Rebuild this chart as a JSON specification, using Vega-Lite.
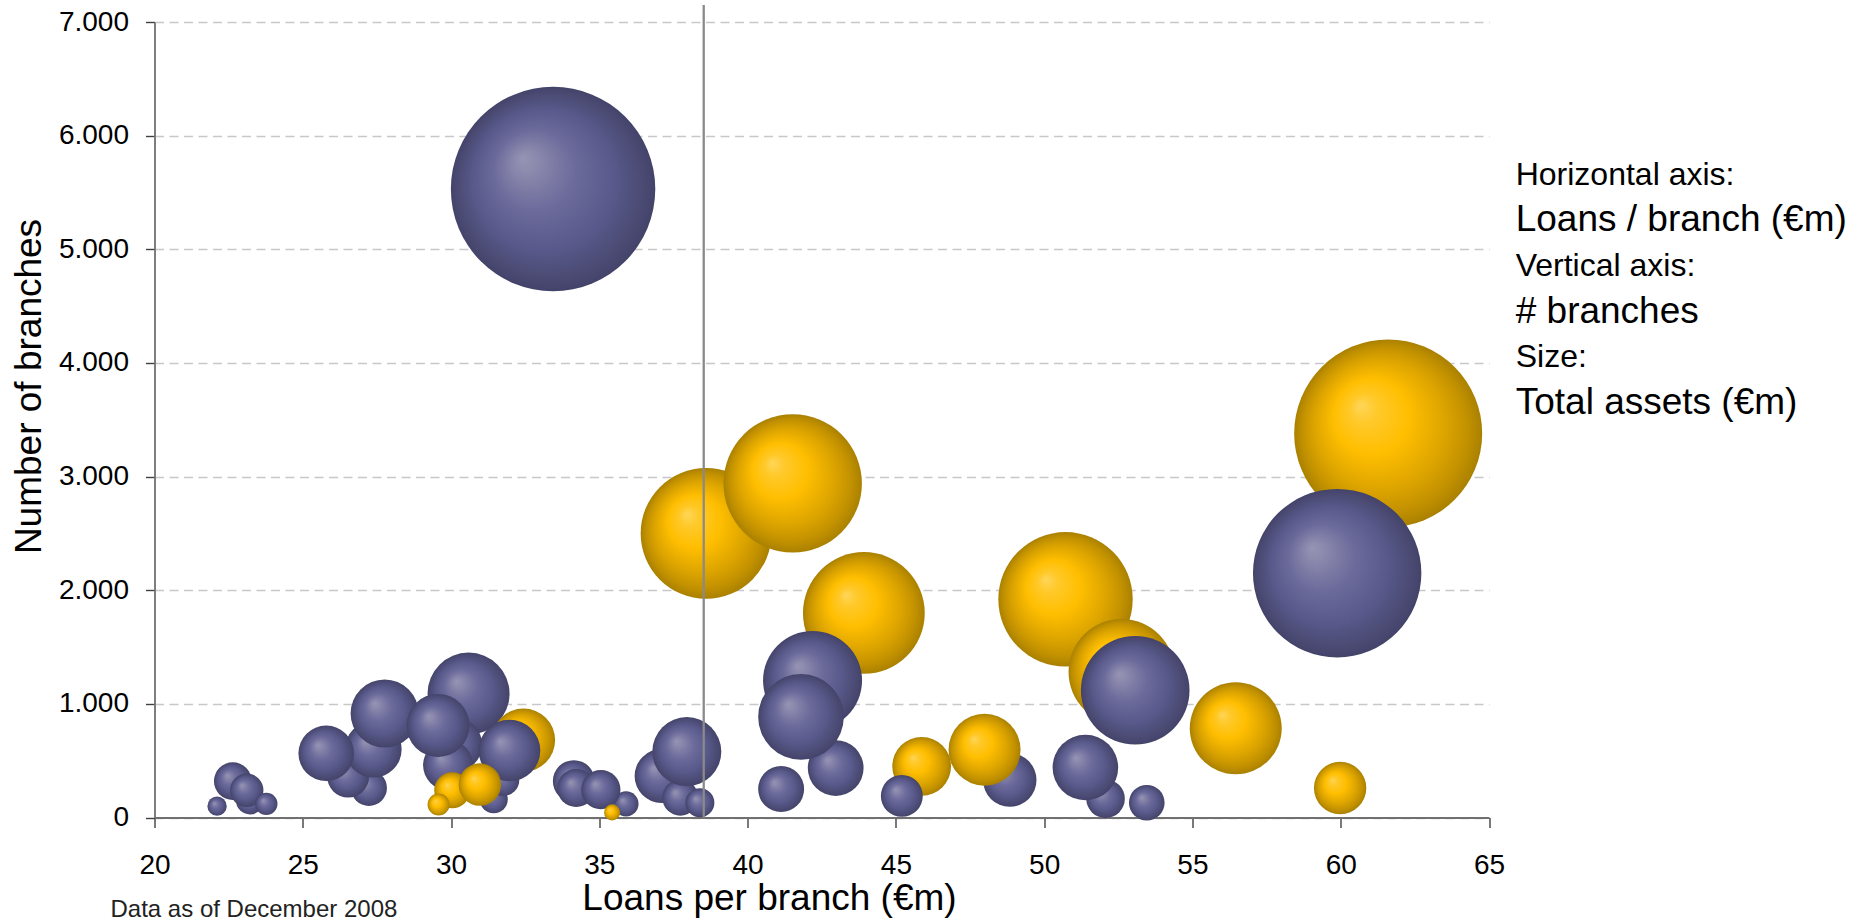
{
  "$schema": "https://vega.github.io/schema/vega-lite/v6.json",
  "width": 1334.5,
  "height": 795.5,
  "autosize": "none",
  "padding": {"left": 154.5, "top": 22, "right": 374, "bottom": 103.5},
  "background": "white",
  "config": {
    "view": {"stroke": null},
    "font": "Liberation Sans",
    "axis": {"labelFont": "Liberation Sans", "titleFont": "Liberation Sans", "labelColor": "#000", "titleColor": "#000", "titleFontWeight": "normal"}
  },
  "title": {
    "text": "Data as of December 2008",
    "orient": "bottom",
    "anchor": "start",
    "frame": "group",
    "font": "Liberation Sans",
    "fontSize": 24,
    "fontWeight": "normal",
    "color": "#222",
    "baseline": "alphabetic",
    "dx": -44,
    "offset": 1
  },
  "datasets": {
    "banks": [
      {"bank_type": "target", "loans_per_branch": 61.60, "branches": 3380, "total_assets": 247400},
      {"bank_type": "peer", "loans_per_branch": 33.44, "branches": 5530, "total_assets": 292500},
      {"bank_type": "peer", "loans_per_branch": 59.88, "branches": 2150, "total_assets": 198500},
      {"bank_type": "target", "loans_per_branch": 38.60, "branches": 2500, "total_assets": 119800},
      {"bank_type": "target", "loans_per_branch": 41.52, "branches": 2940, "total_assets": 134100},
      {"bank_type": "target", "loans_per_branch": 50.72, "branches": 1920, "total_assets": 126400},
      {"bank_type": "target", "loans_per_branch": 43.92, "branches": 1800, "total_assets": 103800},
      {"bank_type": "target", "loans_per_branch": 52.61, "branches": 1280, "total_assets": 78700},
      {"bank_type": "peer", "loans_per_branch": 53.07, "branches": 1120, "total_assets": 82600},
      {"bank_type": "target", "loans_per_branch": 56.46, "branches": 785, "total_assets": 59200},
      {"bank_type": "peer", "loans_per_branch": 42.19, "branches": 1205, "total_assets": 68600},
      {"bank_type": "peer", "loans_per_branch": 42.97, "branches": 435, "total_assets": 21800},
      {"bank_type": "peer", "loans_per_branch": 41.80, "branches": 885, "total_assets": 51300},
      {"bank_type": "peer", "loans_per_branch": 41.13, "branches": 250, "total_assets": 14800},
      {"bank_type": "peer", "loans_per_branch": 30.59, "branches": 1090, "total_assets": 47100},
      {"bank_type": "peer", "loans_per_branch": 37.10, "branches": 365, "total_assets": 20400},
      {"bank_type": "peer", "loans_per_branch": 37.73, "branches": 175, "total_assets": 9100},
      {"bank_type": "peer", "loans_per_branch": 37.95, "branches": 580, "total_assets": 33300},
      {"bank_type": "peer", "loans_per_branch": 38.39, "branches": 130, "total_assets": 5900},
      {"bank_type": "peer", "loans_per_branch": 27.23, "branches": 260, "total_assets": 9100},
      {"bank_type": "peer", "loans_per_branch": 26.53, "branches": 360, "total_assets": 12300},
      {"bank_type": "peer", "loans_per_branch": 27.38, "branches": 600, "total_assets": 22400},
      {"bank_type": "peer", "loans_per_branch": 25.79, "branches": 565, "total_assets": 21600},
      {"bank_type": "peer", "loans_per_branch": 27.76, "branches": 915, "total_assets": 32400},
      {"bank_type": "target", "loans_per_branch": 32.44, "branches": 680, "total_assets": 28100},
      {"bank_type": "peer", "loans_per_branch": 30.14, "branches": 640, "total_assets": 20400},
      {"bank_type": "peer", "loans_per_branch": 29.90, "branches": 460, "total_assets": 17500},
      {"bank_type": "peer", "loans_per_branch": 29.56, "branches": 810, "total_assets": 27800},
      {"bank_type": "peer", "loans_per_branch": 31.44, "branches": 160, "total_assets": 5500},
      {"bank_type": "peer", "loans_per_branch": 31.76, "branches": 330, "total_assets": 7200},
      {"bank_type": "peer", "loans_per_branch": 31.97, "branches": 590, "total_assets": 26600},
      {"bank_type": "target", "loans_per_branch": 30.04, "branches": 240, "total_assets": 9100},
      {"bank_type": "target", "loans_per_branch": 29.58, "branches": 114, "total_assets": 3400},
      {"bank_type": "target", "loans_per_branch": 30.97, "branches": 290, "total_assets": 12600},
      {"bank_type": "peer", "loans_per_branch": 52.07, "branches": 165, "total_assets": 10400},
      {"bank_type": "peer", "loans_per_branch": 51.39, "branches": 440, "total_assets": 30100},
      {"bank_type": "peer", "loans_per_branch": 53.46, "branches": 130, "total_assets": 8900},
      {"bank_type": "peer", "loans_per_branch": 48.84, "branches": 330, "total_assets": 20000},
      {"bank_type": "target", "loans_per_branch": 47.99, "branches": 597, "total_assets": 36300},
      {"bank_type": "target", "loans_per_branch": 45.87, "branches": 450, "total_assets": 24200},
      {"bank_type": "peer", "loans_per_branch": 45.20, "branches": 190, "total_assets": 12300},
      {"bank_type": "peer", "loans_per_branch": 35.90, "branches": 120, "total_assets": 4400},
      {"bank_type": "peer", "loans_per_branch": 34.14, "branches": 320, "total_assets": 12300},
      {"bank_type": "peer", "loans_per_branch": 34.22, "branches": 260, "total_assets": 10100},
      {"bank_type": "peer", "loans_per_branch": 35.05, "branches": 245, "total_assets": 10800},
      {"bank_type": "target", "loans_per_branch": 35.43, "branches": 45, "total_assets": 1800},
      {"bank_type": "peer", "loans_per_branch": 23.22, "branches": 150, "total_assets": 5500},
      {"bank_type": "peer", "loans_per_branch": 22.64, "branches": 320, "total_assets": 9900},
      {"bank_type": "peer", "loans_per_branch": 23.11, "branches": 240, "total_assets": 7800},
      {"bank_type": "peer", "loans_per_branch": 23.77, "branches": 120, "total_assets": 3500},
      {"bank_type": "peer", "loans_per_branch": 22.11, "branches": 100, "total_assets": 2600},
      {"bank_type": "target", "loans_per_branch": 59.98, "branches": 260, "total_assets": 19200}
    ],
    "reference": [
      {"avg_loans_per_branch": 38.52}
    ],
    "key": [
      {"line": "Horizontal axis:", "role": "heading"},
      {"line": "Loans / branch (€m)", "role": "value"},
      {"line": "Vertical axis:", "role": "heading"},
      {"line": "# branches", "role": "value"},
      {"line": "Size:", "role": "heading"},
      {"line": "Total assets (€m)", "role": "value"}
    ]
  },
  "resolve": {"scale": {"y": "independent"}},
  "layer": [
    {
      "layer": [
        {
          "data": {"name": "banks"},
          "mark": {"type": "circle", "opacity": 1, "stroke": null},
          "encoding": {
            "x": {
              "field": "loans_per_branch",
              "type": "quantitative",
              "scale": {"domain": [20, 65], "nice": false, "zero": false},
              "axis": {
                "values": [20, 25, 30, 35, 40, 45, 50, 55, 60, 65],
                "format": "d",
                "grid": false,
                "labelFontSize": 28,
                "labelFlush": false,
                "labelOverlap": false,
                "labelPadding": 24,
                "tickSize": 10,
                "tickColor": "#404040",
                "tickWidth": 1.4,
                "domainColor": "#707070",
                "domainWidth": 1.8,
                "title": "Loans per branch (€m)",
                "titleFontSize": 37,
                "titleX": 614.5,
                "titleY": 91.5,
                "titleAlign": "center",
                "titleBaseline": "alphabetic"
              }
            },
            "y": {
              "field": "branches",
              "type": "quantitative",
              "scale": {"domain": [0, 7000], "nice": false},
              "axis": {
                "values": [0, 1000, 2000, 3000, 4000, 5000, 6000, 7000],
                "labelExpr": "replace(format(datum.value, ','), ',', '.')",
                "labelFontSize": 28,
                "labelFlush": false,
                "labelOverlap": false,
                "labelPadding": 17,
                "tickSize": 9,
                "tickColor": "#404040",
                "tickWidth": 1.4,
                "domainColor": "#707070",
                "domainWidth": 1.8,
                "grid": true,
                "gridColor": "#c8c8c8",
                "gridWidth": 1.3,
                "gridDash": [9, 5.5],
                "title": "Number of branches",
                "titleFontSize": 37,
                "titleAngle": 270,
                "titleX": -114,
                "titleY": 364,
                "titleAlign": "center",
                "titleBaseline": "alphabetic"
              }
            },
            "size": {
              "field": "total_assets",
              "type": "quantitative",
              "scale": {"type": "linear", "domain": [0, 280000], "range": [0, 40000], "zero": true, "nice": false},
              "legend": null
            },
            "fill": {
              "condition": {
                "test": "datum.bank_type === 'target'",
                "value": {
                  "gradient": "radial",
                  "x1": 0.35, "y1": 0.35, "r1": 0,
                  "x2": 0.5, "y2": 0.5, "r2": 0.5,
                  "stops": [
                    {"offset": 0, "color": "#ffd65a"},
                    {"offset": 0.15, "color": "#ffc92a"},
                    {"offset": 0.4, "color": "#ffbe00"},
                    {"offset": 0.7, "color": "#dca400"},
                    {"offset": 0.88, "color": "#c29100"},
                    {"offset": 1, "color": "#a98000"}
                  ]
                }
              },
              "value": {
                "gradient": "radial",
                "x1": 0.35, "y1": 0.35, "r1": 0,
                "x2": 0.5, "y2": 0.5, "r2": 0.5,
                "stops": [
                  {"offset": 0, "color": "#9795b5"},
                  {"offset": 0.15, "color": "#8785aa"},
                  {"offset": 0.4, "color": "#6b6a9b"},
                  {"offset": 0.7, "color": "#58588a"},
                  {"offset": 0.88, "color": "#4c4c76"},
                  {"offset": 1, "color": "#43436a"}
                ]
              }
            }
          }
        },
        {
          "data": {"name": "reference"},
          "mark": {"type": "rule", "color": "#8a8a8a", "strokeWidth": 2.3},
          "encoding": {
            "x": {"field": "avg_loans_per_branch", "type": "quantitative", "scale": {"domain": [20, 65], "nice": false, "zero": false}},
            "y": {"datum": 0, "scale": {"domain": [0, 7000], "nice": false}},
            "y2": {"datum": 7150}
          }
        }
      ]
    },
    {
      "data": {"name": "key"},
      "mark": {"type": "text", "align": "left", "baseline": "middle", "font": "Liberation Sans", "color": "#000"},
      "encoding": {
        "x": {"datum": 65.9, "type": "quantitative", "scale": {"domain": [20, 65], "nice": false, "zero": false}},
        "y": {
          "field": "line",
          "type": "ordinal",
          "sort": null,
          "scale": {"type": "point", "range": [152.6, 380.8], "padding": 0},
          "axis": null
        },
        "text": {"field": "line"},
        "size": {"condition": {"test": "datum.role === 'value'", "value": 37}, "value": 32}
      }
    }
  ]
}
